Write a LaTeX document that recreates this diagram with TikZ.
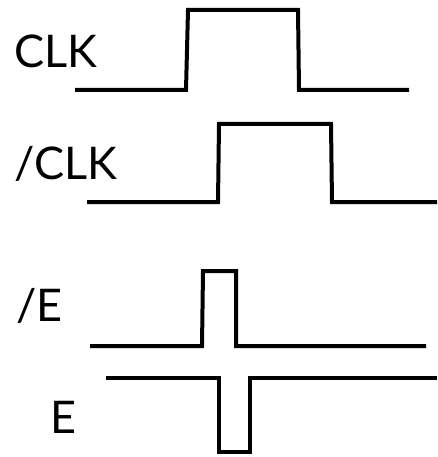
\documentclass[tikz,border=0pt]{standalone}
\usepackage{fontspec}
\setmainfont{Lato}
\usepackage{tikz}

\begin{document}
\begin{tikzpicture}
	 [x=1pt,y=-1pt,every node/.style={inner sep=0pt,anchor=base west,font=\fontsize{45}{45}\selectfont},
	  wave/.style={line width=4pt,line join=miter}]
	\useasboundingbox (0,0) rectangle (437,457);

	  \node (L1) at (14,68) {CLK};
	  \node (L2) at (14,179) {/CLK};
	  \node (L3) at (16,321) {/E};
	  \node (L4) at (50,433) {E};

	% CLK
	\draw[wave] (75,90) -- (186,90) -- (188,10) -- (298,10) -- (299,90) -- (409,90);

	% /CLK
	\draw[wave] (87,202) -- (218,202) -- (219,124) -- (331,124) -- (332,202) -- (437,202);

	% /E
	\draw[wave] (90,346) -- (202,346) -- (203,271) -- (236,271) -- (236,346) -- (426,346);

	% E
	\draw[wave] (106,378) -- (219,378) -- (219,452) -- (250,452) -- (250,378) -- (437,378);

\end{tikzpicture}
\end{document}
